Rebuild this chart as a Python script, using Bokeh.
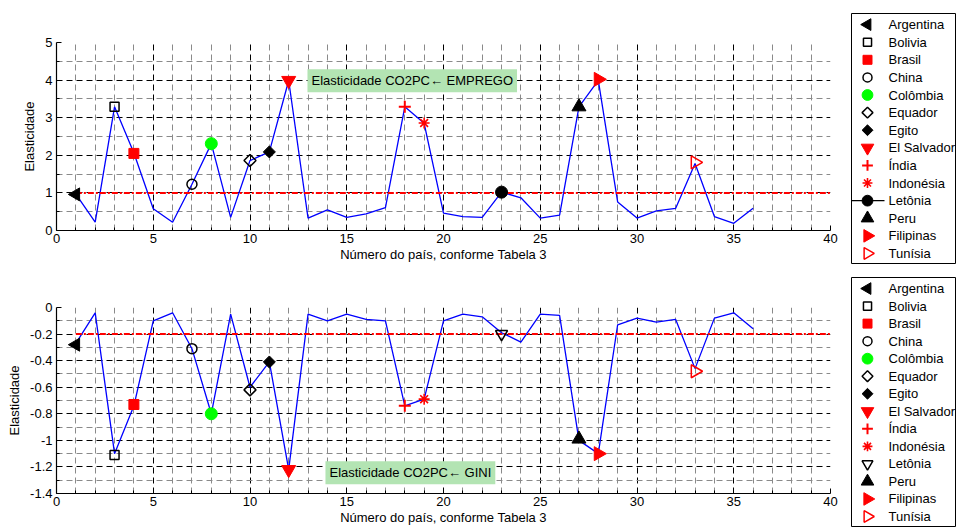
import math
from bokeh.plotting import figure
from bokeh.models import Range1d, FixedTicker, Label, ColumnDataSource
from bokeh.layouts import column, row
from bokeh.core.properties import value, field
from bokeh.embed import file_html
from bokeh.resources import INLINE

# ---------------- data ----------------
paises = [1, 2, 3, 4, 5, 6, 7, 8, 9, 10, 11, 12, 13, 14, 15, 16, 17, 18,
          19, 20, 21, 22, 23, 24, 25, 26, 27, 28, 29, 30, 31, 32, 33, 34, 35, 36]
elasticidade_emprego = [0.97, 0.22, 3.29, 2.06, 0.58, 0.22, 1.23, 2.31, 0.35, 1.86,
                        2.09, 3.99, 0.33, 0.55, 0.35, 0.44, 0.61, 3.29, 2.85, 0.46,
                        0.37, 0.35, 1.02, 0.87, 0.33, 0.41, 3.29, 3.99, 0.76, 0.33,
                        0.52, 0.59, 1.78, 0.37, 0.19, 0.59]
elasticidade_gini = [-0.27, -0.04, -1.10, -0.74, -0.10, -0.04, -0.31, -0.80, -0.05, -0.60,
                     -0.41, -1.22, -0.05, -0.10, -0.05, -0.09, -0.10, -0.74, -0.69, -0.10,
                     -0.05, -0.07, -0.19, -0.26, -0.05, -0.06, -1.00, -1.10, -0.13, -0.08,
                     -0.11, -0.09, -0.46, -0.08, -0.04, -0.16]

paises_destacados = ["Argentina", "Bolivia", "Brasil", "China", "Colômbia", "Equador",
                     "Egito", "El Salvador", "Índia", "Indonésia", "Letônia", "Peru",
                     "Filipinas", "Tunísia"]
numero_destacado = [1, 3, 4, 7, 8, 10, 11, 12, 18, 19, 23, 27, 28, 33]
marcador_emprego = [0.96, 3.29, 2.05, 1.23, 2.31, 1.86, 2.09, 3.99, 3.29, 2.86, 1.02, 3.29, 4.02, 1.81]
marcador_gini = [-0.28, -1.11, -0.73, -0.31, -0.80, -0.62, -0.41, -1.22, -0.74, -0.69, -0.20, -0.99, -1.10, -0.48]

limiar_emprego = 1.0
limiar_gini = -0.2

x_ticks = [0, 5, 10, 15, 20, 25, 30, 35, 40]
y_ticks_emprego = [0, 1, 2, 3, 4, 5]
y_ticks_gini = [0, -0.2, -0.4, -0.6, -0.8, -1, -1.2, -1.4]
y_labels_gini = ["0", "-0.2", "-0.4", "-0.6", "-0.8", "-1", "-1.2", "-1.4"]

titulo_emprego = "Elasticidade CO2PC\u2190 EMPREGO"
titulo_gini = "Elasticidade CO2PC\u2190 GINI"
rotulo_x = "Número do país, conforme Tabela 3"
rotulo_y = "Elasticidade"

# ---------------- styles ----------------
FONT = "Liberation Sans"
RED = "#ff0000"
CLEAR = "#ffffff00"
estilo = {
    "Argentina":   ("triangle", math.pi / 2, "black", "black", 13, 1.0),
    "Bolivia":     ("square", 0.0, CLEAR, "black", 9, 1.5),
    "Brasil":      ("square", 0.0, RED, RED, 10, 1.0),
    "China":       ("circle", 0.0, CLEAR, "black", 10, 1.5),
    "Colômbia":    ("circle", 0.0, "#00ff00", "#00ff00", 12, 1.0),
    "Equador":     ("square", math.pi / 4, CLEAR, "black", 8.5, 1.5),
    "Egito":       ("square", math.pi / 4, "black", "black", 8.5, 1.0),
    "El Salvador": ("inverted_triangle", 0.0, RED, RED, 14, 1.0),
    "Índia":       ("cross", 0.0, RED, RED, 12, 2.0),
    "Indonésia":   ("asterisk", 0.0, RED, RED, 11, 1.6),
    "Letônia":     ("circle", 0.0, "black", "black", 12, 1.0),
    "Peru":        ("triangle", 0.0, "black", "black", 14, 1.0),
    "Filipinas":   ("triangle", -math.pi / 2, RED, RED, 14, 1.0),
    "Tunísia":     ("triangle", -math.pi / 2, CLEAR, RED, 13, 1.5),
}
letonia_gini = ("inverted_triangle", 0.0, CLEAR, "black", 12, 1.5)


def estilos(variante):
    out = []
    for nome in paises_destacados:
        if variante == "gini" and nome == "Letônia":
            out.append(letonia_gini)
        else:
            out.append(estilo[nome])
    return out


def fonte(src_dict, est):
    src_dict["marker"] = [e[0] for e in est]
    src_dict["angle"] = [e[1] for e in est]
    src_dict["fill"] = [e[2] for e in est]
    src_dict["line"] = [e[3] for e in est]
    src_dict["size"] = [e[4] for e in est]
    src_dict["lw"] = [e[5] for e in est]
    return ColumnDataSource(src_dict)


def painel(valores, marcadores, yr, y_ticks, y_minor, overrides, limiar, titulo, tx, ty,
           height, top, bottom, variante):
    p = figure(width=850, height=height, x_range=Range1d(0, 40), y_range=Range1d(*yr),
               output_backend="svg", toolbar_location=None,
               min_border_left=56, min_border_right=20, min_border_top=top,
               min_border_bottom=bottom)
    p.outline_line_color = None
    x_minor = [v for v in range(0, 41) if v % 5]
    xt = FixedTicker(ticks=x_ticks, minor_ticks=x_minor)
    yt = FixedTicker(ticks=y_ticks, minor_ticks=y_minor)
    p.xaxis.ticker = xt
    p.yaxis.ticker = yt
    p.xgrid.ticker = xt
    p.ygrid.ticker = yt
    for g in (p.xgrid, p.ygrid):
        g.grid_line_color = "black"
        g.grid_line_dash = "6 4"
        g.grid_line_width = 1
        g.minor_grid_line_color = "#8a8a8a"
        g.minor_grid_line_dash = "6 4"
        g.minor_grid_line_width = 1
    for ax in (p.xaxis, p.yaxis):
        ax.axis_line_color = "black"
        ax.axis_line_width = 1.2
        ax.major_tick_in = 5
        ax.major_tick_out = 0
        ax.minor_tick_in = 3
        ax.minor_tick_out = 0
        ax.major_tick_line_color = "black"
        ax.minor_tick_line_color = "black"
        ax.major_label_text_font = FONT
        ax.major_label_text_font_size = "13px"
        ax.major_label_text_color = "black"
        ax.axis_label_text_font = FONT
        ax.axis_label_text_font_size = "13px"
        ax.axis_label_text_font_style = "normal"
        ax.axis_label_text_color = "black"
    p.xaxis.major_label_standoff = 3
    p.xaxis.axis_label_standoff = 1
    p.yaxis.major_label_standoff = 4
    p.yaxis.axis_label_standoff = 5
    p.xaxis.axis_label = rotulo_x
    p.yaxis.axis_label = rotulo_y
    if overrides:
        p.yaxis.major_label_overrides = overrides

    p.line(paises, valores, line_color="#0000ff", line_width=1.3)
    p.line([paises[0], x_ticks[-1]], [limiar, limiar], line_color=RED, line_width=2,
           line_dash="6 2 2 2")
    src = fonte(dict(x=numero_destacado, y=marcadores), estilos(variante))
    p.scatter(x="x", y="y", marker=field("marker"), angle="angle", size="size",
              fill_color="fill", line_color="line", line_width="lw", source=src)
    p.add_layout(Label(x=tx, y=ty, text=titulo, text_font=FONT, text_font_size="13px",
                       text_color="black", text_baseline="middle", text_align="left",
                       background_fill_color="#b3e4b3", padding=4))
    return p


def legenda(height, top, bottom, variante):
    n = len(paises_destacados)
    frame_w = 104
    p = figure(width=106, height=height, x_range=Range1d(0, frame_w),
               y_range=Range1d(n - 1 + 0.57, -0.63),
               output_backend="svg", toolbar_location=None,
               min_border_left=1, min_border_right=1, min_border_top=top,
               min_border_bottom=bottom)
    p.axis.visible = False
    p.grid.visible = False
    p.outline_line_color = "black"
    p.outline_line_width = 1
    idx = list(range(n))
    if variante == "emprego":
        i = paises_destacados.index("Letônia")
        p.segment(x0=[0], x1=[33], y0=[i], y1=[i], line_color="black", line_width=1.3)
    est = [(e[0], e[1], e[2], e[3], e[4] * 0.9, e[5]) for e in estilos(variante)]
    src = fonte(dict(x=[16] * n, y=idx), est)
    p.scatter(x="x", y="y", marker=field("marker"), angle="angle", size="size",
              fill_color="fill", line_color="line", line_width="lw", source=src)
    p.text(x=[37] * n, y=idx, text=paises_destacados, text_font=value(FONT),
           text_font_size=value("13px"), text_color="black", text_baseline="middle",
           text_align="left")
    return p


top_plot = painel(elasticidade_emprego, marcador_emprego, (0, 5), y_ticks_emprego,
                  [0.5, 1.5, 2.5, 3.5, 4.5], None, limiar_emprego, titulo_emprego,
                  12.97, 3.98, 264, 42, 32, "emprego")
bot_plot = painel(elasticidade_gini, marcador_gini, (-1.4, 0), y_ticks_gini,
                  [-0.1, -0.3, -0.5, -0.7, -0.9, -1.1, -1.3],
                  dict(zip(y_ticks_gini, y_labels_gini)), limiar_gini, titulo_gini,
                  13.9, -1.243, 263, 43, 32, "gini")
top_leg = legenda(264, 13, 1, "emprego")
bot_leg = legenda(263, 13, 1, "gini")

layout = row(column(top_plot, bot_plot), column(top_leg, bot_leg))
open("out.html", "w").write(file_html(layout, INLINE))
